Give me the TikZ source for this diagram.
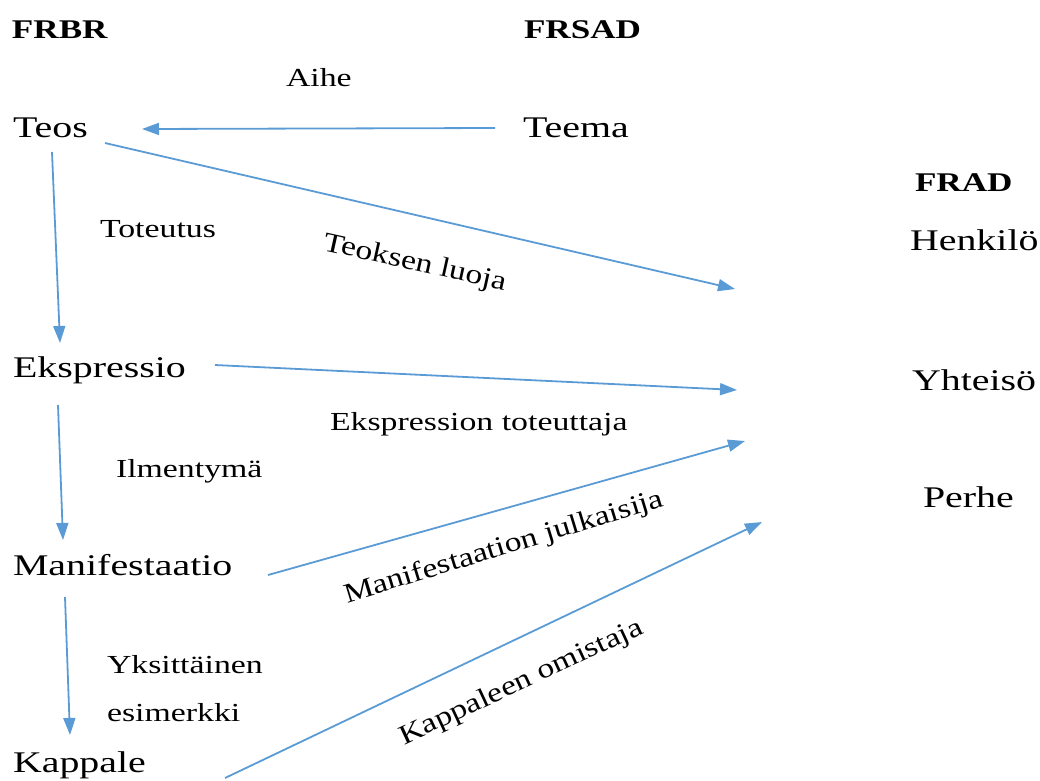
\documentclass[tikz,border=0pt]{standalone}
\usepackage{fontspec}
\usepackage{graphicx}
\setmainfont{Liberation Serif}
\usetikzlibrary{arrows.meta,calc}
\definecolor{arrblue}{RGB}{91,155,213}
\newcommand{\entx}[1]{\scalebox{1.33}[1]{\fontsize{30}{36}\selectfont #1}}
\newcommand{\labx}[1]{\scalebox{1.3}[1]{\fontsize{26}{31}\selectfont #1}}
\newcommand{\rotx}[1]{\scalebox{1.22}[1]{\fontsize{27.5}{33}\selectfont #1}}
\newcommand{\headx}[1]{\scalebox{1.3}[1]{\fontsize{27}{32}\selectfont\bfseries #1}}
\begin{document}
\begin{tikzpicture}[x=1pt,y=-1pt,
  txt/.style={anchor=base west,inner sep=0pt,outer sep=0pt},
  arr/.style={draw=arrblue,line width=1.8pt,-{Triangle[length=17pt,width=12pt]}}]
\useasboundingbox (0,0) rectangle (1040,780);
% headings
\node[txt] (frbr) at (12,38) {\headx{FRBR}};
\node[txt] (frsad) at (524,38) {\headx{FRSAD}};
\node[txt] (frad) at (915,191) {\headx{FRAD}};
% entities
\node[txt] (teos) at (13,137) {\entx{Teos}};
\node[txt] (teema) at (523,137) {\entx{Teema}};
\node[txt] (ekspressio) at (13,377) {\entx{Ekspressio}};
\node[txt] (manifestaatio) at (13,575) {\entx{Manifestaatio}};
\node[txt] (kappale) at (13,772) {\entx{Kappale}};
\node[txt] (henkilo) at (910,250) {\entx{Henkilö}};
\node[txt] (yhteiso) at (912,390) {\entx{Yhteisö}};
\node[txt] (perhe) at (923,507) {\entx{Perhe}};
% labels
\node[txt] (aihe) at (286,86) {\labx{Aihe}};
\node[txt] (toteutus) at (100,237) {\labx{Toteutus}};
\node[txt] (ilmentyma) at (116,477) {\labx{Ilmentymä}};
\node[txt] (yksittainen) at (107,673) {\labx{Yksittäinen}};
\node[txt] (esimerkki) at (107,721) {\labx{esimerkki}};
\node[txt] (ekstot) at (330,430) {\labx{Ekspression toteuttaja}};
\node[txt,rotate=-12.5] (luoja) at (322,250) {\rotx{Teoksen luoja}};
\node[txt,rotate=17] (julk) at (347,603) {\rotx{Manifestaation julkaisija}};
\node[txt,rotate=25] (omist) at (404,745) {\rotx{Kappaleen omistaja}};
% free ends
\coordinate (h1) at (735,289);
\coordinate (h2) at (737,390);
\coordinate (h3) at (745,441);
\coordinate (h4) at (762,522);
% connectors
\draw[arr] ($(teema.base west)+(-28,-9)$) -- ($(teos.base west)+(129,-8)$);
\draw[arr] ($(teos.base west)+(92,6)$) -- (h1);
\draw[arr] ($(teos.base west)+(39,15)$) -- ($(ekspressio.base west)+(47,-34)$);
\draw[arr] ($(ekspressio.base west)+(202,-12)$) -- (h2);
\draw[arr] ($(ekspressio.base west)+(45,28)$) -- ($(manifestaatio.base west)+(50,-35)$);
\draw[arr] ($(manifestaatio.base west)+(255,0)$) -- (h3);
\draw[arr] ($(manifestaatio.base west)+(52,22)$) -- ($(kappale.base west)+(57,-37)$);
\draw[arr] ($(kappale.base west)+(212,6)$) -- (h4);
\end{tikzpicture}
\end{document}
